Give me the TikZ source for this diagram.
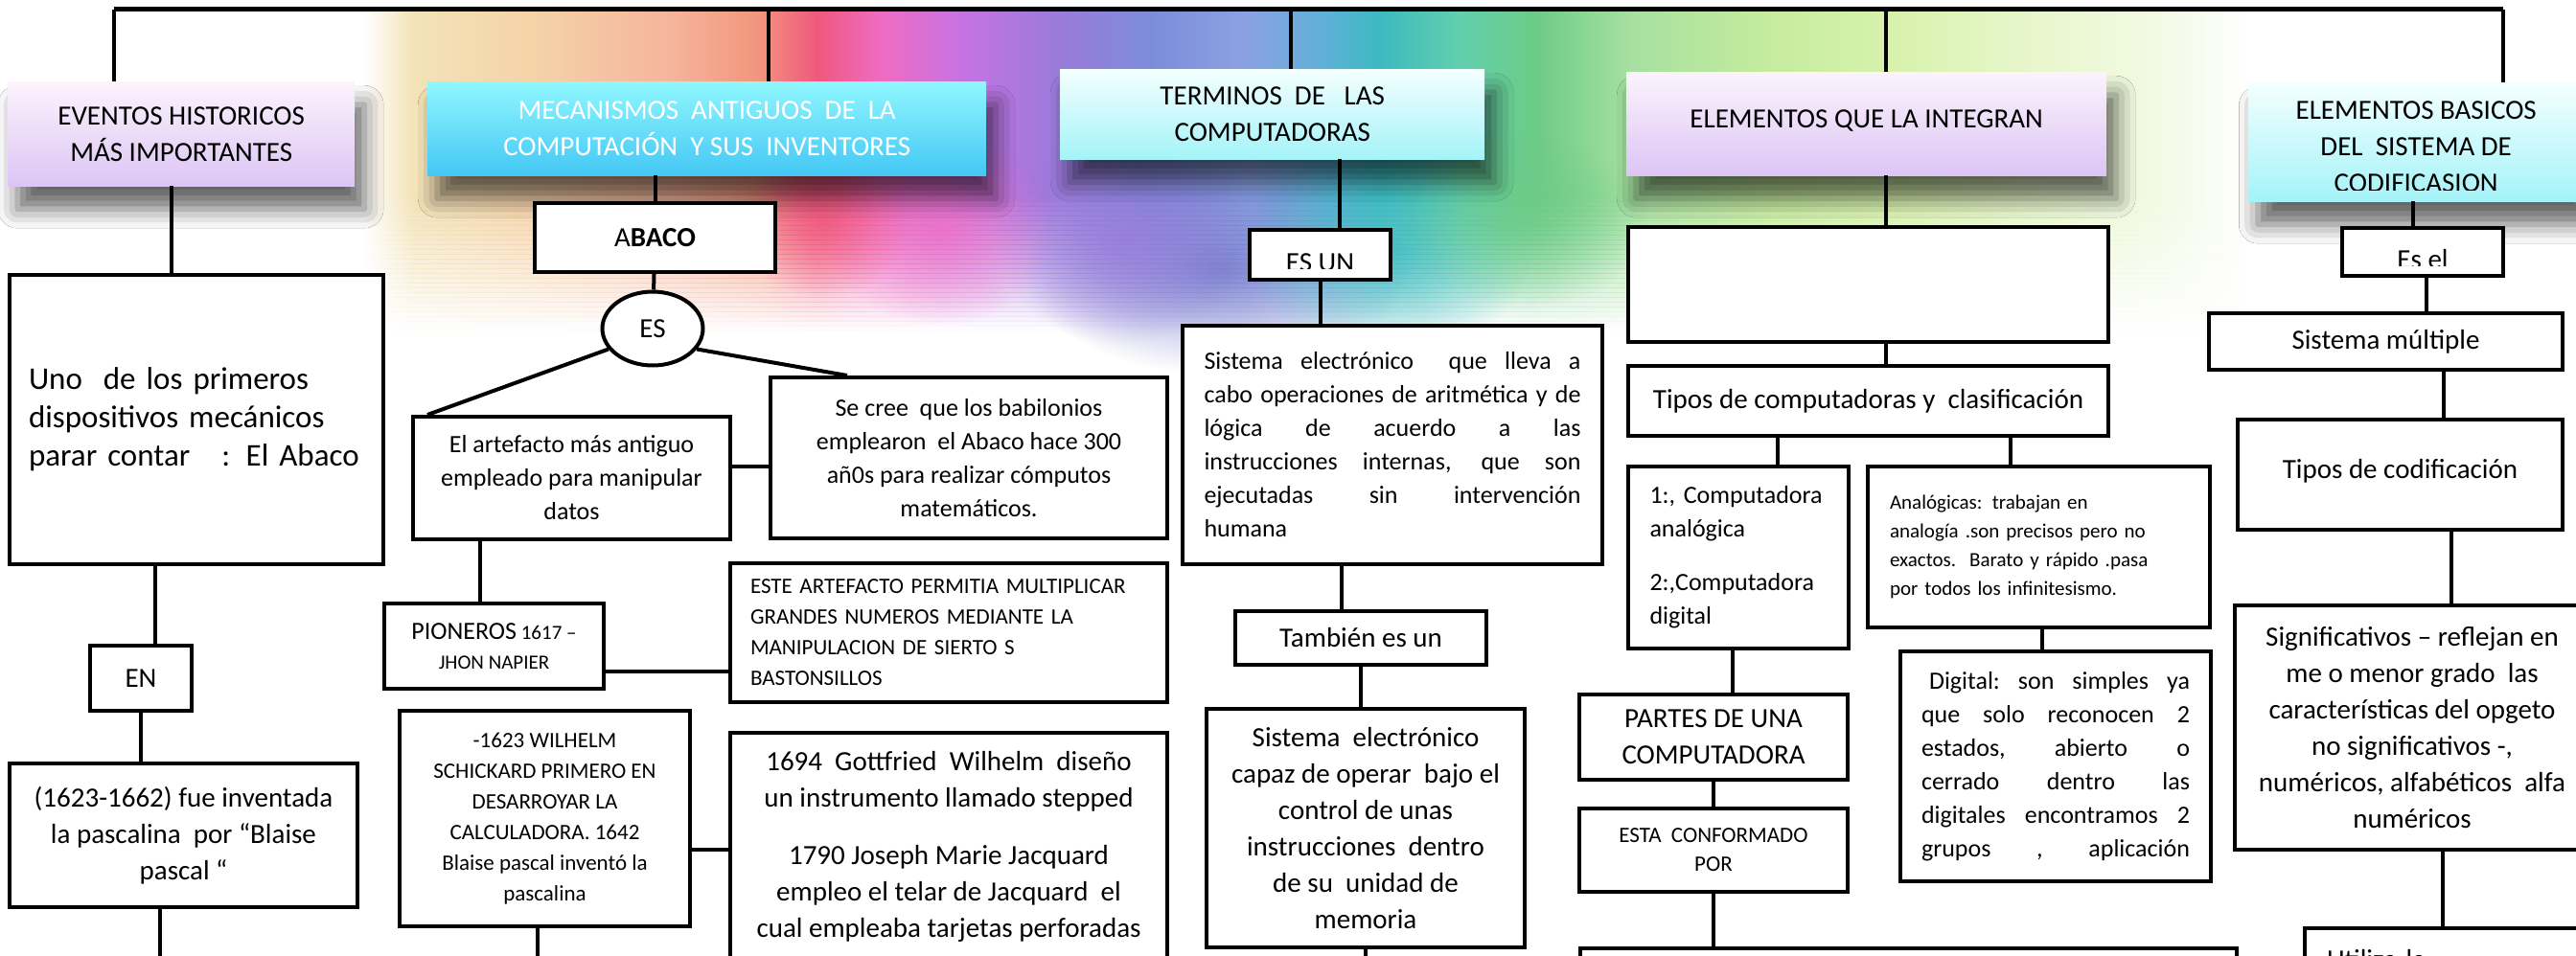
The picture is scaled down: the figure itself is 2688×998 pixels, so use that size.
\documentclass[tikz,border=0pt]{standalone}
\usepackage{fontspec}
\setmainfont{Carlito}
\usetikzlibrary{positioning,shapes.geometric,shadows.blur,fadings}

% colores de los encabezados
\definecolor{lilaA}{HTML}{FCF3FC}
\definecolor{lilaB}{HTML}{DCC5F5}
\definecolor{cianA}{HTML}{90F7FF}
\definecolor{cianB}{HTML}{44C7F4}
\definecolor{aguaA}{HTML}{F4FFFF}
\definecolor{aguaB}{HTML}{A4F3F8}
% colores de la acuarela
\definecolor{ac1}{HTML}{F3E3B8}
\definecolor{ac2}{HTML}{F5D2A8}
\definecolor{ac3}{HTML}{F5B59C}
\definecolor{ac4}{HTML}{F2967E}
\definecolor{ac5}{HTML}{F0587E}
\definecolor{ac6}{HTML}{EE6CC2}
\definecolor{ac7}{HTML}{C673E2}
\definecolor{ac8}{HTML}{9C7ADC}
\definecolor{ac9}{HTML}{7C8CDA}
\definecolor{ac10}{HTML}{8AA2E2}
\definecolor{ac11}{HTML}{5FB0D8}
\definecolor{ac12}{HTML}{3CBAC0}
\definecolor{ac13}{HTML}{62CFAE}
\definecolor{ac14}{HTML}{6CCB86}
\definecolor{ac15}{HTML}{A6E0A0}
\definecolor{ac16}{HTML}{C6EC9E}
\definecolor{ac17}{HTML}{D8F2AE}
\definecolor{ac18}{HTML}{E6F6C8}
\definecolor{ac19}{HTML}{F2FAE4}
\definecolor{gota}{HTML}{6A70C8}

\pgfdeclarehorizontalshading{acuarela}{100bp}{color(0bp)=(white); color(25bp)=(white); color(26.3bp)=(ac1);
    color(29.5bp)=(ac2); color(33.1bp)=(ac3); color(35.4bp)=(ac4); color(37bp)=(ac5); color(38.7bp)=(ac6);
    color(40.8bp)=(ac7); color(43.3bp)=(ac8); color(45.8bp)=(ac9); color(48.4bp)=(ac10); color(50.4bp)=(ac11);
    color(51.9bp)=(ac12); color(54bp)=(ac13); color(56bp)=(ac14); color(58.5bp)=(ac15); color(62.3bp)=(ac16);
    color(65.6bp)=(ac17); color(68.7bp)=(ac18); color(72.5bp)=(ac19); color(75bp)=(white); color(100bp)=(white)}
\tikzfading[name=mancha, inner color=transparent!0, outer color=transparent!100]

\begin{document}
\begin{tikzpicture}[x=1pt, y=-1pt,
    encabezado/.style={anchor=north west, inner sep=0pt, align=center, font=\fontsize{29}{38}\selectfont,
        blur shadow={shadow xshift=10pt, shadow yshift=-24pt, shadow blur radius=20pt, shadow opacity=60}},
    caja/.style={draw, line width=4pt, fill=white, anchor=north west, inner sep=0pt, align=center},
    linea/.style={line width=4pt},
    grande/.style={font=\fontsize{29}{38}\selectfont},
    medio/.style={font=\fontsize{26}{35}\selectfont},
    chico/.style={font=\fontsize{23}{32}\selectfont},
    mini/.style={font=\fontsize{21}{30}\selectfont}
]
    \fill[white] (0,0) rectangle (2688,998);
    \useasboundingbox (0,0) rectangle (2688,998);

    % Acuarela de fondo
    \shade[shading=acuarela] (380,12) rectangle (2350,205);
    \foreach \i in {0,...,27}
        \shade[shading=acuarela, fill opacity={1-(\i+0.5)/28}] (380,{205+5*\i}) rectangle (2350,{210.6+5*\i});
    \foreach \x/\y/\rx/\ry/\c in {1270/280/200/110/gota, 1170/250/130/110/ac8, 1450/260/150/110/ac12,
        980/240/120/100/ac6, 1590/230/130/90/ac14, 860/230/90/80/ac5}
        \fill[\c, path fading=mancha, fill opacity=0.8] (\x,\y) ellipse [x radius=\rx, y radius=\ry];

    % Encabezados
    \node[encabezado, top color=lilaA, bottom color=lilaB, minimum width=362pt, minimum height=109pt] (eventos) at (8,85)
        {EVENTOS HISTORICOS\\MÁS IMPORTANTES};
    \node[encabezado, top color=cianA, bottom color=cianB, text=white, minimum width=583pt, minimum height=98pt] (mecanismos) at (446,85)
        {MECANISMOS\ \ ANTIGUOS\ \ DE\ \ LA\\COMPUTACIÓN\ \ Y SUS\ \ INVENTORES};
    \node[encabezado, top color=aguaA, bottom color=aguaB, minimum width=443pt, minimum height=94pt] (terminos) at (1106,72)
        {TERMINOS\ \ DE\ \ \ LAS\\COMPUTADORAS};
    \node[encabezado, top color=lilaA, bottom color=lilaB, minimum width=501pt, minimum height=108pt] (elementos) at (1697,75)
        {\raisebox{11pt}{ELEMENTOS QUE LA INTEGRAN}};
    \node[encabezado, top color=aguaA, bottom color=aguaB, minimum width=350pt, minimum height=124pt,
        path picture={\clip (path picture bounding box.north west) rectangle ([yshift=12pt]path picture bounding box.south east);
            \node[grande, align=center, anchor=center] at ([yshift=-5pt]path picture bounding box.center) {ELEMENTOS BASICOS\\DEL\ \ SISTEMA DE\\CODIFICASION};}]
        (basicos) at (2346,86) {};

    % Columna 1
    \node[caja, minimum width=390pt, minimum height=302pt, align=left, text width=350pt, font=\fontsize{33}{40}\selectfont] (uno) at (8,285)
        {Uno\ \ de los primeros\\dispositivos mecánicos\\parar contar\ \ \ : El Abaco};
    \node[caja, grande, minimum width=106pt, minimum height=68pt] (en) at (92,672) {EN};
    \node[caja, grande, minimum width=363pt, minimum height=150pt] (pascal) at (8,795)
        {(1623-1662) fue inventada\\la pascalina\ \ por “Blaise\\pascal “};

    % Columna 2
    \node[caja, grande, minimum width=251pt, minimum height=72pt] (abaco) at (556,210) {A\textbf{BACO}};
    \node[draw, ellipse, line width=4pt, fill=white, inner sep=0pt, minimum width=105pt, minimum height=77pt, grande] (es) at (681,343) {ES};
    \node[caja, medio, minimum width=331pt, minimum height=128pt] (artefacto) at (429,433)
        {El artefacto más antiguo\\empleado para manipular\\datos};
    \node[caja, medio, minimum width=414pt, minimum height=168pt] (cree) at (802,392)
        {Se cree\ \ que los babilonios\\emplearon\ \ el Abaco hace 300\\añ0s para realizar cómputos\\matemáticos.};
    \node[caja, minimum width=229pt, minimum height=89pt, font=\fontsize{21}{31}\selectfont] (pioneros) at (399,628)
        {{\fontsize{26}{31}\selectfont PIONEROS} 1617 –\\JHON NAPIER};
    \node[caja, chico, minimum width=456pt, minimum height=145pt, align=left, text width=414pt] (este) at (760,586)
        {ESTE ARTEFACTO PERMITIA MULTIPLICAR\\GRANDES NUMEROS MEDIANTE LA\\MANIPULACION DE SIERTO S\\BASTONSILLOS};
    \node[caja, chico, minimum width=303pt, minimum height=225pt] (schickard) at (415,740)
        {-1623 WILHELM\\SCHICKARD PRIMERO EN\\DESARROYAR LA\\CALCULADORA. 1642\\Blaise pascal inventó la\\pascalina};
    \node[caja, grande, minimum width=456pt, minimum height=238pt] (jacquard) at (760,763)
        {1694\ \ Gottfried\ \ Wilhelm\ \ diseño\\un instrumento llamado stepped\\[22pt]1790 Joseph Marie Jacquard\\empleo el telar de Jacquard\ \ el\\cual empleaba tarjetas perforadas};

    % Columna 3
    \node[caja, minimum width=147pt, minimum height=52pt,
        path picture={\node[grande, anchor=center] at ([yshift=-8pt]path picture bounding box.center) {ES UN};
            \fill[white] ([yshift=2pt]path picture bounding box.south west) rectangle ([yshift=11pt]path picture bounding box.south east);}]
        (esun) at (1302,238) {};
    \node[caja, medio, minimum width=438pt, minimum height=249pt, text width=393pt, align=justify] (sistemaA) at (1232,338)
        {Sistema electrónico\ \ que lleva a\linebreak cabo operaciones de aritmética y de\linebreak lógica de acuerdo a las\linebreak
         instrucciones internas, que son\linebreak ejecutadas sin intervención\linebreak humana};
    \node[caja, grande, minimum width=262pt, minimum height=56pt] (tambien) at (1287,636) {También es un};
    \node[caja, grande, minimum width=332pt, minimum height=249pt] (sistemaB) at (1257,738)
        {Sistema\ \ electrónico\\capaz de operar\ \ bajo el\\control de unas\\instrucciones\ \ dentro\\de su\ \ unidad de\\memoria};

    % Columna 4
    \node[caja, minimum width=501pt, minimum height=120pt] (vacio) at (1697,235) {};
    \node[caja, grande, minimum width=501pt, minimum height=73pt] (tipos) at (1697,380) {Tipos de computadoras y\ \ clasificación};
    \node[caja, medio, minimum width=230pt, minimum height=190pt, align=left, text width=185pt] (compu) at (1697,485)
        {1:, Computadora\\analógica\\[21pt]2:,Computadora\\digital};
    \node[caja, mini, minimum width=357pt, minimum height=168pt, align=left, text width=311pt] (analog) at (1947,485)
        {Analógicas: trabajan en\\analogía .son precisos pero no\\exactos.\ \ Barato y rápido .pasa\\por todos los infinitesismo.};
    \node[caja, medio, minimum width=324pt, minimum height=240pt, text width=280pt, align=justify] (digital) at (1981,678)
        {\hspace*{8pt}Digital:\ \ son\ \ simples\ \ ya\linebreak que\ \ solo\ \ reconocen\ \ 2\linebreak estados,\ \ abierto\ \ o\linebreak
         cerrado\ \ dentro\ \ las\linebreak digitales\ \ encontramos\ \ 2\linebreak grupos\hfill,\hfill aplicación};
    \node[caja, grande, minimum width=280pt, minimum height=89pt] (partes) at (1646,723) {PARTES DE UNA\\COMPUTADORA};
    \node[caja, minimum width=280pt, minimum height=87pt, font=\fontsize{23}{30}\selectfont] (conforma) at (1646,842) {ESTA\ \ CONFORMADO\\POR};
    \node[caja, minimum width=685pt, minimum height=40pt] (inferior) at (1647,988) {};

    % Columna 5
    \node[caja, minimum width=168pt, minimum height=50pt,
        path picture={\node[grande, anchor=center] at ([yshift=-8pt]path picture bounding box.center) {Es el};
            \fill[white] ([yshift=2pt]path picture bounding box.south west) rectangle ([yshift=10pt]path picture bounding box.south east);}]
        (esel) at (2442,236) {};
    \node[caja, grande, minimum width=369pt, minimum height=59pt] (multiple) at (2303,325) {Sistema múltiple};
    \node[caja, grande, minimum width=339pt, minimum height=115pt] (codif) at (2333,436) {\raisebox{12pt}{Tipos de codificación}};
    \node[caja, grande, minimum width=370pt, minimum height=255pt] (signif) at (2330,630)
        {Significativos – reflejan en\\me o menor grado\ \ las\\características del opgeto\\no significativos -,\\numéricos, alfabéticos\ \ alfa\\numéricos};
    \node[caja, grande, minimum width=300pt, minimum height=66pt, align=left, text width=254pt] (utiliza) at (2403,967) {Utiliza la};

    % Barra superior
    \coordinate (b1) at (119,10);
    \coordinate (b2) at (802,10);
    \coordinate (b3) at (1347,10);
    \coordinate (b4) at (1968,10);
    \coordinate (b5) at (2612,10);
    \coordinate (fondo) at (0,1002);
    \draw[linea, line width=5pt] (b1) -- (b5);
    \draw[linea] (b1) -- (b1 |- eventos.north);
    \draw[linea] (b2) -- (b2 |- mecanismos.north);
    \draw[linea] (b3) -- (b3 |- terminos.north);
    \draw[linea] (b4) -- (b4 |- elementos.north);
    \draw[linea] (b5) -- (b5 |- basicos.north);

    % Conectores columna 1
    \draw[linea] ([xshift=-10pt]eventos.south) -- ([xshift=-10pt]eventos.south |- uno.north);
    \draw[linea] ([xshift=15pt]en.north) -- ([xshift=15pt]en.north |- uno.south);
    \draw[linea] (en.south) -- (en.south |- pascal.north);
    \draw[linea] ([xshift=-25pt]pascal.south) -- ([xshift=-25pt]pascal.south |- fondo);

    % Conectores columna 2
    \draw[linea] (abaco.north) -- (abaco.north |- mecanismos.south);
    \draw[linea] (abaco) -- (es);
    \draw[linea] (es.205) -- ([xshift=17pt]artefacto.north west);
    \draw[linea] (es.-25) -- ([xshift=82pt]cree.north west);
    \draw[linea] ([yshift=12pt]artefacto.east) -- ([yshift=12pt]artefacto.east -| cree.west);
    \draw[linea] ([xshift=-15pt]pioneros.north) -- ([xshift=-15pt]pioneros.north |- artefacto.south);
    \draw[linea] ([yshift=-26pt]pioneros.east) -- ([yshift=-26pt]pioneros.east -| este.west);
    \draw[linea] ([yshift=-32pt]schickard.east) -- ([yshift=-32pt]schickard.east -| jacquard.west);
    \draw[linea] ([xshift=-8pt]schickard.south) -- ([xshift=-8pt]schickard.south |- fondo);

    % Conectores columna 3
    \draw[linea] ([xshift=20pt]esun.north) -- ([xshift=20pt]esun.north |- terminos.south);
    \draw[linea] (esun.south) -- (esun.south |- sistemaA.north);
    \draw[linea] ([xshift=-20pt]tambien.north) -- ([xshift=-20pt]tambien.north |- sistemaA.south);
    \draw[linea] (tambien.south) -- (tambien.south |- sistemaB.north);
    \draw[linea] (sistemaB.south) -- (sistemaB.south |- fondo);

    % Conectores columna 4
    \draw[linea] (b4 |- elementos.south) -- (b4 |- vacio.north);
    \draw[linea] (b4 |- vacio.south) -- (b4 |- tipos.north);
    \draw[linea] ([xshift=41pt]compu.north) -- ([xshift=41pt]compu.north |- tipos.south);
    \draw[linea] ([xshift=-30pt]analog.north) -- ([xshift=-30pt]analog.north |- tipos.south);
    \draw[linea] ([xshift=-14pt]digital.north) -- ([xshift=-14pt]digital.north |- analog.south);
    \draw[linea] ([xshift=-6pt]compu.south) -- ([xshift=-6pt]compu.south |- partes.north);
    \draw[linea] (partes.south) -- (conforma.north);
    \draw[linea] (conforma.south) -- (conforma.south |- inferior.north);

    % Conectores columna 5
    \draw[linea] ([xshift=-10pt]esel.north) -- ([xshift=-10pt]esel.north |- basicos.south);
    \draw[linea] ([xshift=4pt]esel.south) -- ([xshift=4pt]esel.south |- multiple.north);
    \draw[linea] ([xshift=60pt]multiple.south) -- ([xshift=60pt]multiple.south |- codif.north);
    \draw[linea] ([xshift=41pt]signif.north) -- ([xshift=41pt]signif.north |- codif.south);
    \draw[linea] ([xshift=32pt]signif.south) -- ([xshift=32pt]signif.south |- utiliza.north);
\end{tikzpicture}
\end{document}
